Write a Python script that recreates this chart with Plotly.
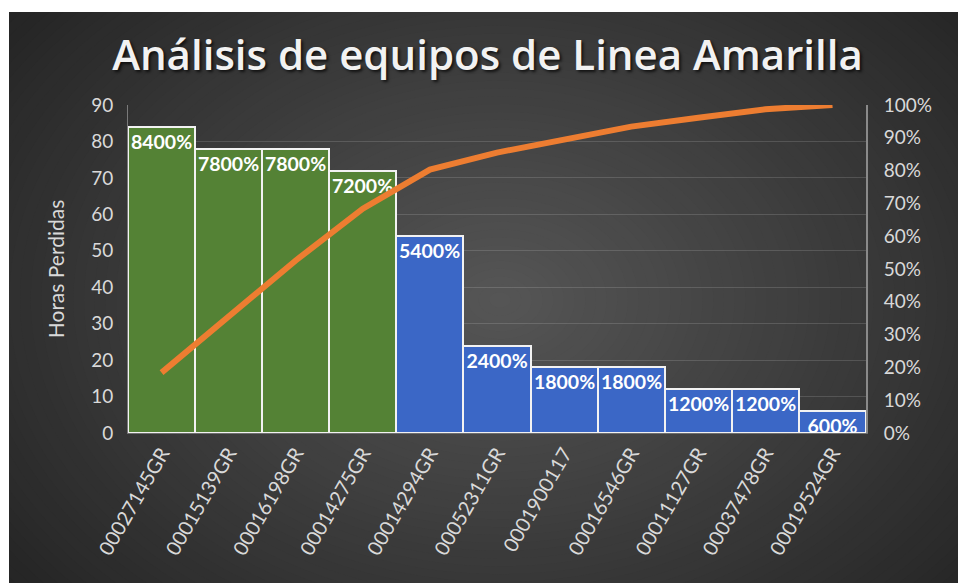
import plotly.graph_objects as go

# ---------------- data ----------------
categories = ["00027145GR", "00015139GR", "00016198GR", "00014275GR", "00014294GR",
              "00052311GR", "0001900117", "00016546GR", "00011127GR", "00037478GR",
              "00019524GR"]
hours_lost = [84, 78, 78, 72, 54, 24, 18, 18, 12, 12, 6]
cumulative_pct = [0.184, 0.355, 0.526, 0.684, 0.803, 0.855, 0.895, 0.934, 0.961, 0.987, 1.0]
group_colors = ["#548235"] * 4 + ["#3b67c6"] * 7

# ---------------- geometry helpers (figure px -> paper) ----------------
W, H = 958, 583
ML, MR, MT, MB = 128, 92, 105, 150
PW, PH = W - ML - MR, H - MT - MB


def px_x(px):
    return (px - ML) / PW


def px_y(py):
    return (H - MB - py) / PH


shapes = []
# radial gradient background built from concentric ellipses
cx, cy = 500, 300
rx_max, ry_max = 640, 470
outer, inner = 36, 86
N = 60
for i in range(N):
    f = 1 - i / N
    g = int(round(outer + (inner - outer) * (1 - f)))
    col = f"rgb({g},{g},{g})"
    shapes.append(dict(type="circle", xref="paper", yref="paper", layer="below",
                       x0=px_x(cx - rx_max * f), x1=px_x(cx + rx_max * f),
                       y0=px_y(cy + ry_max * f), y1=px_y(cy - ry_max * f),
                       fillcolor=col, line=dict(width=0)))
# white outer margins
shapes.append(dict(type="rect", xref="paper", yref="paper", layer="below",
                   x0=px_x(-50), x1=px_x(W + 50), y0=px_y(12), y1=px_y(-200),
                   fillcolor="white", line=dict(width=0)))
shapes.append(dict(type="rect", xref="paper", yref="paper", layer="below",
                   x0=px_x(-200), x1=px_x(9), y0=px_y(H + 50), y1=px_y(-50),
                   fillcolor="white", line=dict(width=0)))

fig = go.Figure()
fig.add_trace(go.Bar(
    x=categories, y=hours_lost,
    marker=dict(color=group_colors, line=dict(color="#f2f2f2", width=2)),
    texttemplate="%{y:.0%}", textposition="inside", insidetextanchor="end",
    constraintext="none", textangle=0, cliponaxis=False,
    textfont=dict(color="white", size=19.5, family="Lato", weight="bold"),
    hoverinfo="x+y", showlegend=False,
))
fig.add_trace(go.Scatter(
    x=categories, y=cumulative_pct, yaxis="y2", mode="lines",
    line=dict(color="#ed7d31", width=6), showlegend=False,
))

tick_col = "#d9d9d9"
fig.update_layout(
    width=W, height=H,
    margin=dict(l=ML, r=MR, t=MT, b=MB),
    paper_bgcolor="#262626", plot_bgcolor="rgba(0,0,0,0)",
    bargap=0,
    shapes=shapes,
    title=dict(text="Análisis de equipos de Linea Amarilla",
               x=487.5 / W, xref="container", xanchor="center",
               y=1 - 55 / H, yref="container", yanchor="middle",
               font=dict(family="Open Sans", size=42, color="#f2f2f2", weight=600,
                         shadow="2px 2px 3px rgba(0,0,0,0.7)")),
    xaxis=dict(type="category", tickangle=-60, showgrid=False,
               tickfont=dict(family="Lato", size=20, color=tick_col),
               showline=True, linecolor="#6f6f6f", linewidth=1, ticks=""),
    yaxis=dict(range=[0, 90], dtick=10, showgrid=True,
               gridcolor="rgba(255,255,255,0.14)", gridwidth=1, zeroline=False,
               tickfont=dict(family="Lato", size=19, color=tick_col),
               showline=True, linecolor="#7a7a7a", linewidth=1, ticks="",
               ticklabelstandoff=10,
               title=dict(text="Horas Perdidas", standoff=20,
                          font=dict(family="Lato", size=21, color=tick_col))),
    yaxis2=dict(range=[0, 1], dtick=0.1, tickformat=".0%", overlaying="y",
                side="right", showgrid=False, zeroline=False,
                tickfont=dict(family="Lato", size=19, color=tick_col),
                showline=True, linecolor="#8a8a8a", linewidth=2, ticks="",
                ticklabelstandoff=12),
)

fig.write_html("out.html",
               config={"displayModeBar": False},
               post_script="document.documentElement.style.margin='0';"
                           "document.documentElement.style.overflow='hidden';"
                           "document.documentElement.style.background='#262626';"
                           "document.body.style.margin='0';"
                           "document.body.style.overflow='hidden';"
                           "document.body.style.background='#262626';")
